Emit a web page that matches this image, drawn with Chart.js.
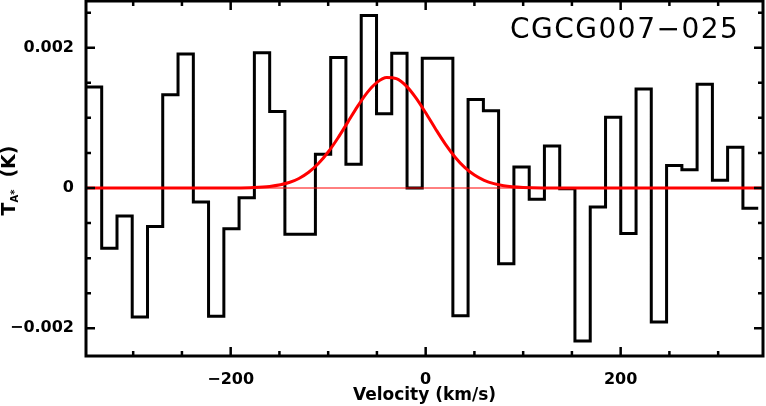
<!DOCTYPE html>
<html>
<head>
<meta charset="utf-8">
<script src="https://cdn.jsdelivr.net/npm/chart.js@4/dist/chart.umd.min.js"></script>
<style>
html, body { margin: 0; padding: 0; background: #fff; }
</style>
</head>
<body>
<canvas id="myChart" width="766" height="406"></canvas>
<script>
// channel edges in km/s (44 channels, last value closes the final channel)
var velEdges = [
	-348.0, -332.3, -316.6, -301.0, -285.3, -269.7, -254.0, -238.3, -222.7, -207.0,
	-191.4, -175.7, -160.0, -144.4, -128.7, -113.1, -97.4, -81.8, -66.1, -50.4,
	-34.8, -19.1, -3.5, 12.2, 27.9, 43.5, 59.2, 74.8, 90.5, 106.2,
	121.8, 137.5, 153.1, 168.8, 184.5, 200.1, 215.8, 231.4, 247.1, 262.8,
	278.4, 294.1, 309.7, 325.4, 341.1
];
// antenna temperature per channel (K)
var tA = [
	0.00144, -0.00086, -0.00040, -0.00184, -0.00055, 0.00133, 0.00191, -0.00020, -0.00183, -0.00058,
	-0.00014, 0.00193, 0.00109, -0.00066, -0.00066, 0.00048, 0.00186, 0.00034, 0.00246, 0.00106,
	0.00192, 0.00000, 0.00185, 0.00185, -0.00182, 0.00126, 0.00110, -0.00108, 0.00030, -0.00016,
	0.00060, -0.00001, -0.00218, -0.00027, 0.00101, -0.00065, 0.00141, -0.00191, 0.00032, 0.00026,
	0.00148, 0.00011, 0.00058, -0.00029
];
// red fitted profile
var fitVel = [-348, -200, -180, -160, -140, -130, -120, -110, -100, -90, -80, -70, -60, -50, -40,
	-30, -20, -10, 0, 10, 20, 30, 40, 50, 60, 70, 80, 100, 120, 200, 346];
var fitT = [0, 0, 0.000005, 0.000022, 0.000078, 0.000136, 0.000224, 0.000349, 0.000513, 0.000713,
	0.000936, 0.00116, 0.00136, 0.001506, 0.001576, 0.001558, 0.001456, 0.001285, 0.001072, 0.000845,
	0.000629, 0.000443, 0.000294, 0.000185, 0.00011, 0.000062, 0.000033, 0.000008, 0.000001, 0, 0];

var xMin = -348.4, xMax = 346;
var yMin = -0.002395, yMax = 0.002666;
var xTicks = [-300, -250, -200, -150, -100, -50, 0, 50, 100, 150, 200, 250, 300];
var xLabels = [-200, 0, 200];
var yTicks = [-0.002, -0.0015, -0.001, -0.0005, 0, 0.0005, 0.001, 0.0015, 0.002, 0.0025];
var yLabels = [-0.002, 0, 0.002];
var galaxy = 'CGCG007\u2212025';

var hist = [];
tA.forEach(function(t, i) {
	hist.push({x: velEdges[i], y: t});
});
hist.push({x: velEdges[velEdges.length - 1], y: tA[tA.length - 1]});

var fit = fitVel.map(function(v, i) { return {x: v, y: fitT[i]}; });

var tickFont = {family: 'DejaVu Sans', size: 16, weight: 'bold'};

function minus(s) { return s.replace('-', '\u2212'); }

function noPad(s) {
	s.paddingTop = 0; s.paddingBottom = 0;
	s.paddingLeft = 0; s.paddingRight = 0;
}

// frame, inward ticks, name and y title
var frame = {
	id: 'frame',
	afterDraw: function(chart) {
		var ctx = chart.ctx, a = chart.chartArea;
		var xs = chart.scales.x, ys = chart.scales.y;
		ctx.save();
		ctx.strokeStyle = '#000';
		ctx.lineWidth = 3;
		ctx.strokeRect(a.left, a.top, a.right - a.left, a.bottom - a.top);
		ctx.lineWidth = 2.5;
		ctx.beginPath();
		xTicks.forEach(function(v) {
			var px = xs.getPixelForValue(v);
			var len = xLabels.indexOf(v) >= 0 ? 9 : 5;
			ctx.moveTo(px, a.bottom); ctx.lineTo(px, a.bottom - len);
			ctx.moveTo(px, a.top); ctx.lineTo(px, a.top + len);
		});
		yTicks.forEach(function(v) {
			var py = ys.getPixelForValue(v);
			var len = yLabels.indexOf(v) >= 0 ? 9 : 5;
			ctx.moveTo(a.left, py); ctx.lineTo(a.left + len, py);
			ctx.moveTo(a.right, py); ctx.lineTo(a.right - len, py);
		});
		ctx.stroke();

		ctx.fillStyle = '#000';
		ctx.font = '28px "DejaVu Sans"';
		ctx.letterSpacing = '1.5px';
		ctx.textAlign = 'left';
		ctx.textBaseline = 'alphabetic';
		ctx.fillText(galaxy, 510, 38);

		ctx.letterSpacing = '0px';
		var big = 'bold 19px "DejaVu Sans"', small = 'bold 10px "DejaVu Sans"';
		ctx.font = big;
		var wT = ctx.measureText('T').width, wK = ctx.measureText('(K)').width;
		ctx.font = small;
		var wA = ctx.measureText('A*').width;
		var gap = 12;
		var total = wT + wA + gap + wK;
		var cy = (a.top + a.bottom) / 2 + 2;
		ctx.translate(15, cy + total / 2);
		ctx.rotate(-Math.PI / 2);
		ctx.font = big;
		ctx.fillText('T', 0, 0);
		ctx.font = small;
		ctx.fillText('A*', wT, 3);
		ctx.font = big;
		ctx.fillText('(K)', wT + wA + gap, 0);
		ctx.restore();
	}
};

var ctx = document.getElementById('myChart').getContext('2d');
var myChart = new Chart(ctx, {
	type: 'line',
	data: {
		datasets: [{
			data: fit,
			borderColor: '#ff0000',
			borderWidth: 3,
			pointRadius: 0,
			cubicInterpolationMode: 'monotone',
			fill: false,
			order: 1
		}, {
			data: [{x: xMin, y: 0}, {x: xMax, y: 0}],
			borderColor: '#ff0000',
			borderWidth: 1,
			pointRadius: 0,
			fill: false,
			order: 2
		}, {
			data: hist,
			borderColor: '#000',
			borderWidth: 3,
			pointRadius: 0,
			stepped: true,
			borderJoinStyle: 'miter',
			fill: false,
			order: 3
		}]
	},
	options: {
		responsive: false,
		animation: false,
		devicePixelRatio: 1,
		layout: {padding: {top: 1, right: 3, left: 0, bottom: 0}},
		plugins: {legend: {display: false}, tooltip: {enabled: false}},
		scales: {
			x: {
				type: 'linear',
				min: xMin,
				max: xMax,
				afterBuildTicks: function(s) { s.ticks = xTicks.map(function(v) { return {value: v}; }); },
				afterFit: function(s) { s.height = 50; noPad(s); },
				grid: {display: false},
				border: {display: false},
				ticks: {
					autoSkip: false,
					maxRotation: 0,
					padding: 6,
					color: '#000',
					font: tickFont,
					callback: function(v) { return xLabels.indexOf(v) >= 0 ? minus(String(v)) : ''; }
				},
				title: {
					display: true,
					text: 'Velocity (km/s)',
					color: '#000',
					font: {family: 'DejaVu Sans', size: 17, weight: 'bold'},
					padding: {top: 0, bottom: 0}
				}
			},
			y: {
				type: 'linear',
				min: yMin,
				max: yMax,
				afterBuildTicks: function(s) { s.ticks = yTicks.map(function(v) { return {value: v}; }); },
				afterFit: function(s) { s.width = 86; noPad(s); },
				grid: {display: false},
				border: {display: false},
				ticks: {
					padding: 4,
					color: '#000',
					font: tickFont,
					callback: function(v) {
						if (yLabels.indexOf(v) < 0) return '';
						return v === 0 ? '0' : minus(v.toFixed(3));
					}
				}
			}
		}
	},
	plugins: [frame]
});
</script>
</body>
</html>
